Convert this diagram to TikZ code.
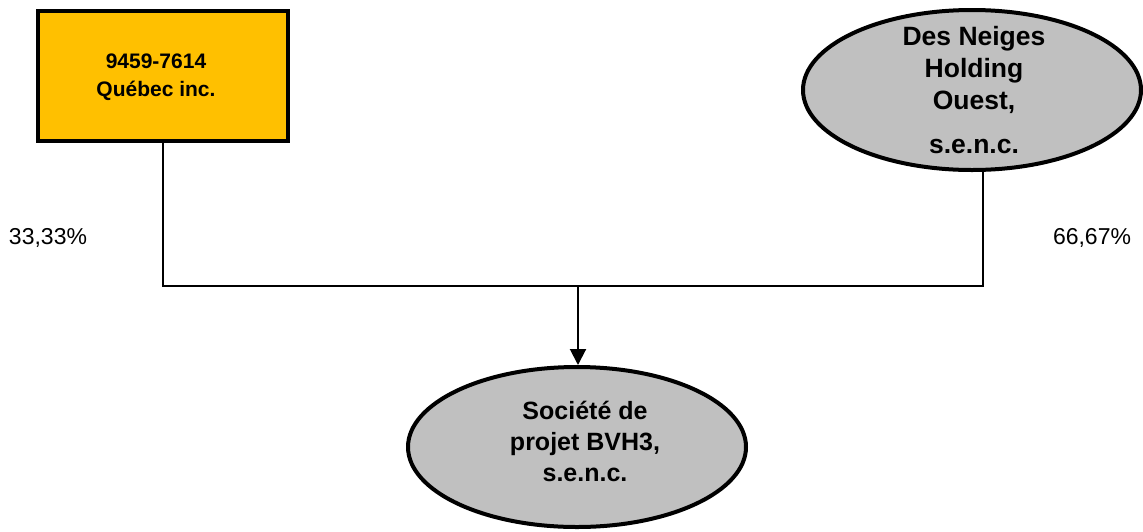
\documentclass[tikz,border=0pt]{standalone}
\usepackage{fontspec}
\setmainfont{Liberation Sans}
\usetikzlibrary{shapes.geometric,arrows.meta}
\definecolor{boxyellow}{RGB}{255,192,0}
\definecolor{ellgrey}{RGB}{192,192,192}
\tikzset{
  entitybox/.style={draw=black, line width=4.5pt, fill=boxyellow, minimum width=250pt, minimum height=130pt, inner sep=0pt, align=center, font=\fontsize{21pt}{28pt}\selectfont\bfseries},
  entityell/.style={ellipse, draw=black, line width=4pt, fill=ellgrey, minimum width=338pt, minimum height=160pt, inner sep=0pt, align=center},
  ellfontA/.style={font=\fontsize{26.5pt}{32pt}\selectfont\bfseries},
  ellfontB/.style={font=\fontsize{25pt}{31pt}\selectfont\bfseries},
  link/.style={draw=black, line width=2pt},
  pct/.style={font=\fontsize{23pt}{27pt}\selectfont, inner sep=0pt},
  lbl/.style={inner sep=0pt, align=center}
}
\begin{document}
\begin{tikzpicture}[x=1pt,y=-1pt]
\useasboundingbox (0,0) rectangle (1143,531);
\node[entitybox] (q) at (163,76) {};
\node[lbl, font=\fontsize{21pt}{28pt}\selectfont\bfseries] (qt) at (156,77) {9459-7614\\Québec inc.};
\node[entityell] (dn) at (972,90) {};
\node[lbl, ellfontA] (dnt) at (974,90) {Des Neiges\\Holding\\Ouest,\\[12pt]s.e.n.c.};
\node[entityell] (bvh) at (577,447) {};
\node[lbl, ellfontB] (bvht) at (585,441) {Société de\\projet BVH3,\\s.e.n.c.};
\coordinate (jL) at (163,286);
\coordinate (jR) at (983,286);
\coordinate (jM) at (578,286);
\draw[link] (q.south) -- (jL) -- (jR) -- (jR |- dn.south);
\draw[link, -{Triangle[width=16pt,length=16pt]}] (jM) -- (jM |- bvh.north);
\node[pct] (p1) at (48,238) {33,33\%};
\node[pct] (p2) at (1092,238) {66,67\%};
\end{tikzpicture}
\end{document}
